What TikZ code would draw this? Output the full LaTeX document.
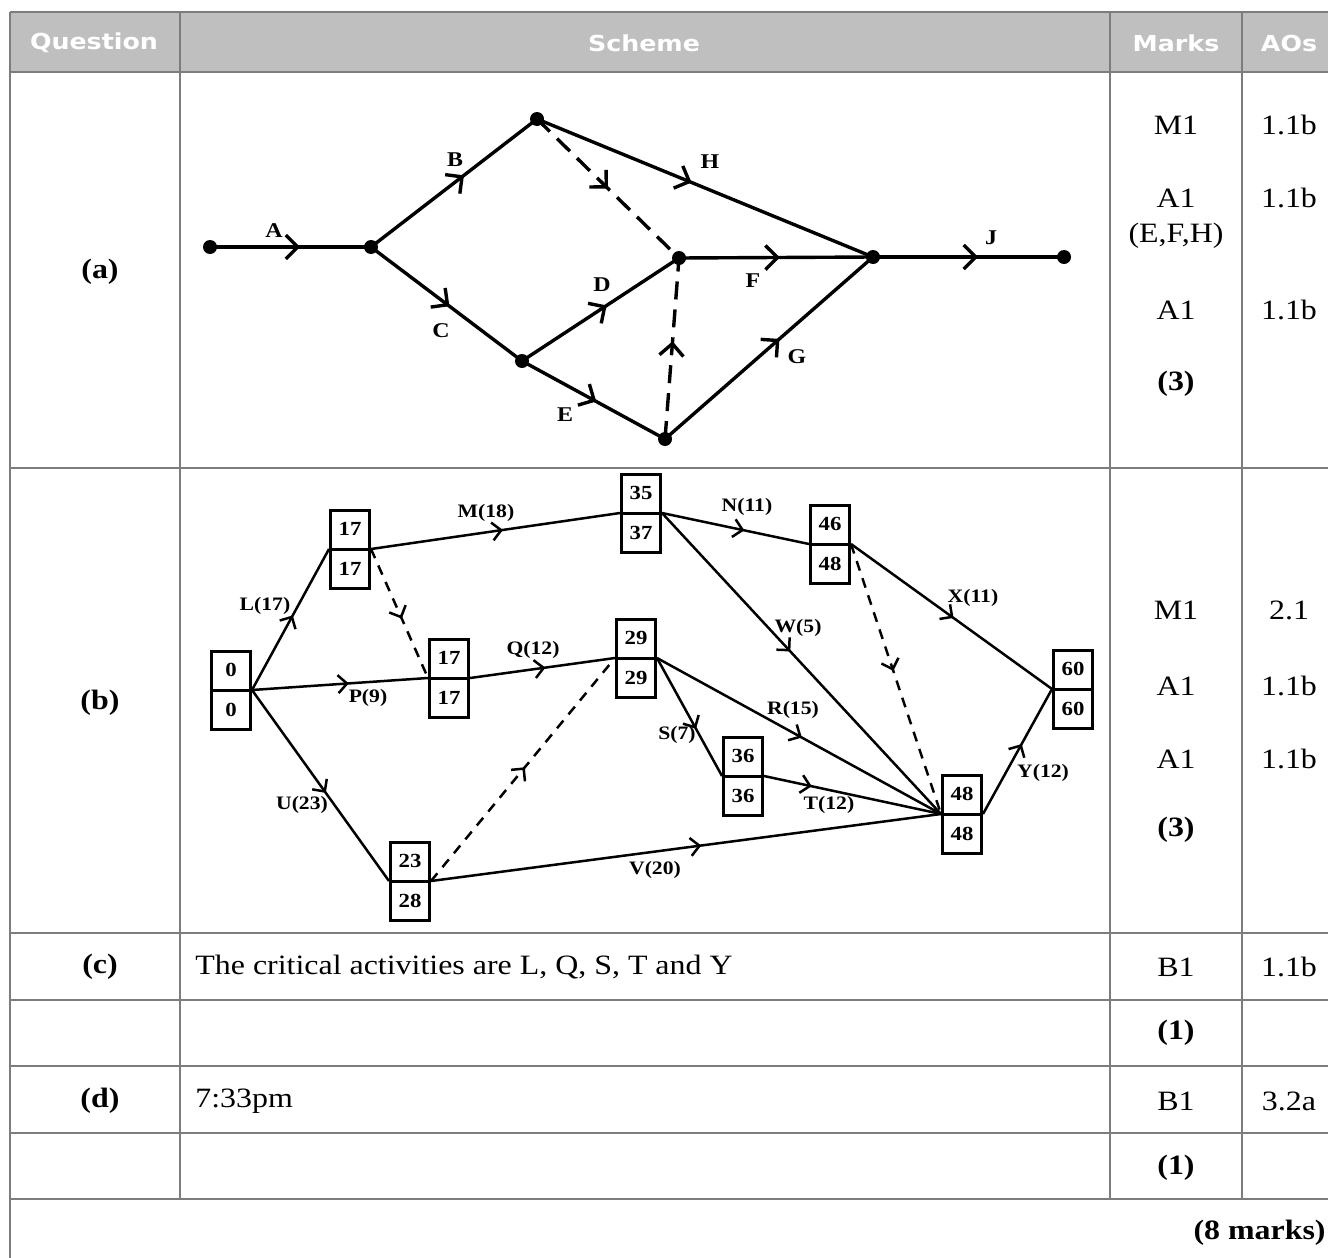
\documentclass[tikz,border=0pt]{standalone}
\usepackage{fontspec}
\setmainfont[FakeStretch=1.14]{Liberation Serif}
\newfontfamily\hdfont[FakeStretch=1.15]{DejaVu Sans}
\usetikzlibrary{arrows.meta,decorations.markings}
\definecolor{rule}{RGB}{125,125,125}
\definecolor{headfill}{RGB}{191,191,191}

% an event box of the activity network: early time above, late time below
\newcommand\evbox[4]{%
  \node[evbox] (#1) at (#2) {};
  \draw[boxline] (#1.west) -- (#1.east);
  \path (#1.north) -- node[evnum] (#1t) {#3} (#1.center);
  \path (#1.center) -- node[evnum] (#1b) {#4} (#1.south);
}

\begin{document}
\begin{tikzpicture}[x=0.5pt,y=-0.5pt,
  rulel/.style={draw=rule,line width=1.4pt},
  body/.style={font=\fontsize{14}{17}\selectfont,inner sep=0pt},
  bodyb/.style={font=\fontsize{14}{17}\selectfont\bfseries,inner sep=0pt},
  head/.style={font=\hdfont\bfseries\fontsize{11}{13}\selectfont,text=white,inner sep=0pt},
  dot/.style={circle,fill=black,inner sep=0pt,minimum size=7pt},
  actA/.style={line width=1.7pt},
  actB/.style={line width=1.25pt},
  dumA/.style={dash pattern=on 9pt off 5pt},
  dumB/.style={dash pattern=on 5pt off 4pt},
  arrowat/.style={postaction={decorate,decoration={markings,
      mark=at position #1 with {\arrow{Straight Barb[length=6pt,width=12pt,line width=1.7pt]}}}}},
  arrowsm/.style={postaction={decorate,decoration={markings,
      mark=at position #1 with {\arrow{Straight Barb[length=4.5pt,width=9pt,line width=1.25pt]}}}}},
  albl/.style={font=\fontsize{10.5}{12}\selectfont\bfseries,inner sep=0pt},
  blbl/.style={font=\fontsize{9.5}{11}\selectfont\bfseries,inner sep=0pt},
  evbox/.style={draw,line width=1.5pt,minimum width=19.5pt,minimum height=39pt,inner sep=0pt},
  boxline/.style={line width=1.5pt},
  evnum/.style={font=\fontsize{10}{11}\selectfont\bfseries,inner sep=0pt}]
\useasboundingbox (0,0) rectangle (1328,1258);

% ---------- table frame ----------
\fill[headfill] (10,12) rectangle (1328,72);
\foreach \y in {12,72,468,933,1000,1066,1133,1199}
  \draw[rulel] (10,\y) -- (1328,\y);
\draw[rulel] (10,12) -- (10,1258);
\foreach \x in {180,1110,1242}
  \draw[rulel] (\x,12) -- (\x,1199);

% ---------- header ----------
\node[head] (hq) at (94,43) {Question};
\node[head] (hs) at (644,43) {Scheme};
\node[head] (hm) at (1176,43) {Marks};
\node[head] (ha) at (1289,43) {AOs};

% ---------- part labels ----------
\node[bodyb] (pa) at (100,272) {(a)};
\node[bodyb] (pb) at (100,703) {(b)};
\node[bodyb] (pc) at (100,967) {(c)};
\node[bodyb] (pd) at (100,1101) {(d)};

% ---------- marks and AOs ----------
\node[body] (ma1) at (1176,125) {M1};
\node[body] (ma2) at (1176,198) {A1};
\node[body] (ma3) at (1176,236) {(E,F,H)};
\node[body] (ma4) at (1176,310) {A1};
\node[bodyb] (ma5) at (1176,384) {(3)};
\node[body] (oa1) at (1289,125) {1.1b};
\node[body] (oa2) at (1289,198) {1.1b};
\node[body] (oa3) at (1289,310) {1.1b};

\node[body] (mb1) at (1176,610) {M1};
\node[body] (mb2) at (1176,686) {A1};
\node[body] (mb3) at (1176,759) {A1};
\node[bodyb] (mb4) at (1176,830) {(3)};
\node[body] (ob1) at (1289,610) {2.1};
\node[body] (ob2) at (1289,686) {1.1b};
\node[body] (ob3) at (1289,759) {1.1b};

\node[body,anchor=west] (sc) at (195,967) {The critical activities are L, Q, S, T and Y};
\node[body] (mc1) at (1176,967) {B1};
\node[body] (oc1) at (1289,967) {1.1b};
\node[bodyb] (mc2) at (1176,1033) {(1)};

\node[body,anchor=west] (sd) at (195,1101) {7:33pm};
\node[body] (md1) at (1176,1101) {B1};
\node[body] (od1) at (1289,1101) {3.2a};
\node[bodyb] (md2) at (1176,1168) {(1)};

\node[bodyb,anchor=east] (tot) at (1326,1233) {(8 marks)};

% ---------- (a) activity-on-arc network ----------
\node[dot] (a1) at (210,247) {};
\node[dot] (a2) at (371,247) {};
\node[dot] (a3) at (537,119) {};
\node[dot] (a4) at (679,258) {};
\node[dot] (a5) at (522,361) {};
\node[dot] (a6) at (665,439) {};
\node[dot] (a7) at (873,257) {};
\node[dot] (a8) at (1064,257) {};

\draw[actA,arrowat=0.56] (a1.center) -- (a2.center);
\draw[actA,arrowat=0.56] (a2.center) -- (a3.center);
\draw[actA,arrowat=0.52] (a2.center) -- (a5.center);
\draw[actA,arrowat=0.54] (a5.center) -- (a4.center);
\draw[actA,arrowat=0.52] (a5.center) -- (a6.center);
\draw[actA,arrowat=0.46] (a3.center) -- (a7.center);
\draw[actA,arrowat=0.52] (a4.center) -- (a7.center);
\draw[actA,arrowat=0.55] (a6.center) -- (a7.center);
\draw[actA,arrowat=0.55] (a7.center) -- (a8.center);
\draw[actA,dumA,arrowat=0.5] (a3.center) -- (a4.center);
\draw[actA,dumA,arrowat=0.54] (a6.center) -- (a4.center);

\node[albl] (lA) at (274,231) {A};
\node[albl] (lB) at (455,160) {B};
\node[albl] (lC) at (441,331) {C};
\node[albl] (lD) at (602,285) {D};
\node[albl] (lE) at (565,415) {E};
\node[albl] (lF) at (753,281) {F};
\node[albl] (lG) at (797,357) {G};
\node[albl] (lH) at (710,162) {H};
\node[albl] (lJ) at (991,238) {J};

% ---------- (b) activity network with event times ----------
\evbox{b0}{231,690}{0}{0}
\evbox{bL}{350,549}{17}{17}
\evbox{bP}{449,678}{17}{17}
\evbox{bM}{641,513}{35}{37}
\evbox{bQ}{636,658}{29}{29}
\evbox{bU}{410,881}{23}{28}
\evbox{bN}{830,544}{46}{48}
\evbox{bS}{743,776}{36}{36}
\evbox{bZ}{962,814}{48}{48}
\evbox{bF}{1073,689}{60}{60}

\draw[actB,arrowsm=0.53] (b0.east) -- (bL.west);
\draw[actB,arrowsm=0.55] (b0.east) -- (bP.west);
\draw[actB,arrowsm=0.54] (b0.east) -- (bU.west);
\draw[actB,arrowsm=0.53] (bL.east) -- (bM.west);
\draw[actB,arrowsm=0.52] (bP.east) -- (bQ.west);
\draw[actB,arrowsm=0.53] (bU.east) -- (bZ.west);
\draw[actB,arrowsm=0.56] (bM.east) -- (bN.west);
\draw[actB,arrowsm=0.46] (bM.east) -- (bZ.west);
\draw[actB,arrowsm=0.51] (bN.east) -- (bF.west);
\draw[actB,arrowsm=0.51] (bQ.east) -- (bZ.west);
\draw[actB,arrowsm=0.6] (bQ.east) -- (bS.west);
\draw[actB,arrowsm=0.27] (bS.east) -- (bZ.west);
\draw[actB,arrowsm=0.56] (bZ.east) -- (bF.west);
\draw[actB,dumB,arrowsm=0.54] (bL.east) -- (bP.west);
\draw[actB,dumB,arrowsm=0.51] (bU.east) -- (bQ.west);
\draw[actB,dumB,arrowsm=0.47] (bN.east) -- (bZ.west);

\node[blbl] (lL) at (265,606) {L(17)};
\node[blbl] (lP) at (368,698) {P(9)};
\node[blbl] (lU) at (302,805) {U(23)};
\node[blbl] (lM) at (486,513) {M(18)};
\node[blbl] (lQ) at (533,650) {Q(12)};
\node[blbl] (lV) at (655,870) {V(20)};
\node[blbl] (lN) at (747,507) {N(11)};
\node[blbl] (lW) at (798,628) {W(5)};
\node[blbl] (lX) at (973,598) {X(11)};
\node[blbl] (lR) at (793,710) {R(15)};
\node[blbl] (lS) at (677,735) {S(7)};
\node[blbl] (lT) at (829,805) {T(12)};
\node[blbl] (lY) at (1043,773) {Y(12)};
\end{tikzpicture}
\end{document}
